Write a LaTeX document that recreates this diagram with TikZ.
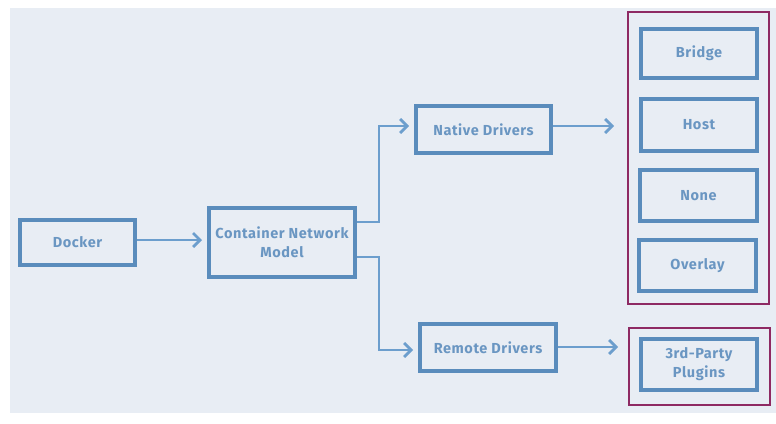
\documentclass[tikz,border=0pt]{standalone}
\usepackage{fontspec}
\setmainfont{Fira Sans}[LetterSpace=4]
\usetikzlibrary{arrows.meta}
\definecolor{bgc}{HTML}{E8EDF4}
\definecolor{boxc}{HTML}{5A8CBC}
\definecolor{txtc}{HTML}{6A96C2}
\definecolor{linec}{HTML}{6C9ECD}
\definecolor{purp}{HTML}{8E2A63}
\tikzset{
  bx/.style={draw=boxc, line width=4pt, fill=none, text=txtc, font=\fontsize{14.5}{19}\selectfont\bfseries, align=center, inner sep=0pt},
  grp/.style={draw=purp, line width=2.5pt},
  conn/.style={draw=linec, line width=2.7pt, -{Straight Barb[length=7pt,width=14pt,line width=2.7pt]}}
}
\begin{document}
\begin{tikzpicture}[x=1pt,y=-1pt]
\useasboundingbox (0,0) rectangle (776,423);
\fill[bgc] (10,8) rectangle (776,413);
% groups
\draw[grp] (628,12) rectangle (769,304);
\draw[grp] (629,328) rectangle (770,405);
% boxes
\node[bx, minimum width=115pt, minimum height=45pt] (docker) at (77.5,242.5) {Docker};
\node[bx, minimum width=146pt, minimum height=69pt] (cnm) at (282,242.5) {Container Network\\Model};
\node[bx, minimum width=135pt, minimum height=47pt] (native) at (483.5,129.5) {Native Drivers};
\node[bx, minimum width=136pt, minimum height=47pt] (remote) at (488,347.5) {Remote Drivers};
\node[bx, minimum width=116pt, minimum height=49pt] (bridge) at (699,53.5) {Bridge};
\node[bx, minimum width=116pt, minimum height=52pt] (host) at (699,125) {Host};
\node[bx, minimum width=117pt, minimum height=51pt] (none) at (698.5,195.5) {None};
\node[bx, minimum width=117pt, minimum height=51pt] (overlay) at (697.5,265.5) {Overlay};
\node[bx, minimum width=116pt, minimum height=51pt] (plugins) at (699,364.5) {3rd-Party\\Plugins};
% connectors
\coordinate (nEnd) at (614,126);
\coordinate (rEnd) at (618,347);
\draw[conn] (docker.east |- 0,240) -- (202,240);
\draw[conn] (cnm.east |- 0,222) -- (379,222) |- ([xshift=-5pt]native.west |- 0,126);
\draw[conn] (cnm.east |- 0,257) -- (379,257) |- ([xshift=-5pt]remote.west |- 0,350);
\draw[conn] (native.east |- 0,126) -- (nEnd);
\draw[conn] (remote.east |- 0,347) -- (rEnd);
\end{tikzpicture}
\end{document}
